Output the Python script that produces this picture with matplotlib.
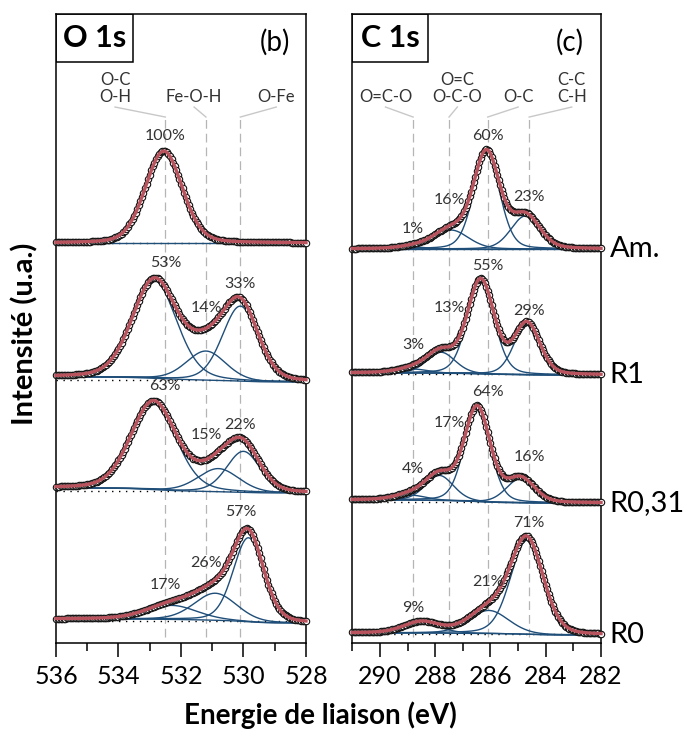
import numpy as np
import matplotlib.pyplot as plt
from matplotlib.patches import Rectangle
from matplotlib.ticker import MultipleLocator

plt.rcParams['font.family'] = ['Lato', 'DejaVu Sans']

# Echantillons (du haut vers le bas)
echantillons = ['Am.', 'R1', 'R0,31', 'R0']

# O 1s : positions (eV), hauteurs, largeurs a mi-hauteur, fond (gauche, droite)
o1s_pos = [[532.55], [532.85, 531.2, 530.1], [532.88, 530.8, 530.0], [532.29, 530.9, 529.84]]
o1s_haut = [[92], [98, 29, 75], [88, 23, 41], [14, 27, 84]]
o1s_fwhm = [[1.4], [1.67, 1.49, 1.35], [1.7, 1.55, 1.27], [1.9, 1.6, 1.15]]
o1s_fond = [(400, 400), (266, 261), (155, 150), (24, 20)]
o1s_pct = [['100%'], ['53%', '14%', '33%'], ['63%', '15%', '22%'], ['17%', '26%', '57%']]
o1s_guides = [532.5, 531.2, 530.1]
o1s_guide_idx = [[0], [0, 1, 2], [0, 1, 2], [0, 1, 2]]
o1s_liaisons = ['O-C\nO-H', 'Fe-O-H', 'O-Fe']

# C 1s
c1s_pos = [[288.8, 287.43, 286.14, 284.74], [288.8, 287.79, 286.35, 284.68],
           [288.9, 287.85, 286.48, 284.92], [288.5, 286.06, 284.68]]
c1s_haut = [[2, 19, 95, 33], [4, 21, 93.5, 51], [5, 25, 94, 24], [11, 23, 94]]
c1s_fwhm = [[1.2, 1.48, 1.11, 1.23], [1.3, 1.2, 1.14, 1.1], [1.3, 1.2, 1.1, 1.2], [1.5, 1.69, 1.4]]
c1s_fond = [(394, 394), (270, 268), (143, 140), (10, 8)]
c1s_pct = [['1%', '16%', '60%', '23%'], ['3%', '13%', '55%', '29%'],
           ['4%', '17%', '64%', '16%'], ['9%', '21%', '71%']]
c1s_guides = [288.8, 287.5, 286.1, 284.6]
c1s_guide_idx = [[0, 1, 2, 3], [0, 1, 2, 3], [0, 1, 2, 3], [0, 2, 3]]
c1s_liaisons = ['O=C-O', 'O=C\nO-C-O', 'O-C', 'C-C\nC-H']

# placement des etiquettes (hauteur en unites de l'axe)
o1s_pct_y = [[507], [380, 335, 359], [257, 208, 218], [58, 80, 131]]
c1s_pct_y = [[414, 443, 507, 446], [298, 335, 377, 332], [174, 220, 251, 186], [35, 61, 120]]
o1s_lbl_x = [534.11, 531.58, 528.95]
c1s_lbl_x = [289.8, 287.2, 285.0, 283.06]

ROUGE = '#b9545e'
BLEU = '#1f4e79'
GRIS = '#b5b5b5'


def pv(x, c, h, w, eta=0.2):
    g = np.exp(-4 * np.log(2) * ((x - c) / w) ** 2)
    l = 1 / (1 + 4 * ((x - c) / w) ** 2)
    return h * ((1 - eta) * g + eta * l)


def shirley(x, total, gauche, droite):
    # x decroissant (gauche -> droite)
    cum = np.cumsum(total[::-1])[::-1]
    return droite + (gauche - droite) * cum / cum[0]


def panneau(ax, xlim, pos, haut, fwhm, fond, pct, pct_y, guides, gidx, liaisons, lbl_x):
    x = np.linspace(xlim[0], xlim[1], 600)
    xm = np.round(np.arange(xlim[0], xlim[1] - 0.001, -0.05), 2)
    for i in range(len(pos)):
        comps = [pv(x, c, h, w) for c, h, w in zip(pos[i], haut[i], fwhm[i])]
        comps_m = [pv(xm, c, h, w) for c, h, w in zip(pos[i], haut[i], fwhm[i])]
        tot = np.sum(comps, axis=0)
        tot_m = np.sum(comps_m, axis=0)
        bg = shirley(x, tot, *fond[i])
        bg_m = np.interp(xm[::-1], x[::-1], bg[::-1])[::-1]
        ax.axhline(np.mean(fond[i]), color='k', ls=(0, (1, 4)), lw=1, zorder=1)
        ax.plot(x, bg, color=BLEU, lw=1, zorder=2)
        for cp in comps:
            ax.plot(x, cp + bg, color=BLEU, lw=1, zorder=2)
        ax.plot(xm, tot_m + bg_m, 'o', ms=4.6, mfc='white', mec='#111111', mew=0.8,
                zorder=3, clip_on=False)
        ax.plot(x, tot + bg, color=ROUGE, lw=2.4, zorder=4, clip_on=False)
        for t, yy, g in zip(pct[i], pct_y[i], gidx[i]):
            ax.text(guides[g], yy, t, ha='center', va='center', fontsize=11.5,
                    color='#333333', zorder=5)
    for g, lab, lx in zip(guides, liaisons, lbl_x):
        ax.plot([g, g], [6, 526], color=GRIS, lw=0.9, dashes=[7, 4], zorder=0.5)
        ax.plot([lx, g], [536, 526], color='#c8c8c8', lw=1, zorder=0.5)
        ax.text(lx, 538, lab, ha='center', va='bottom', fontsize=12,
                color='#333333', linespacing=1.1)
    ax.set_xlim(*xlim)
    ax.set_ylim(0, 629)
    ax.set_yticks([])
    ax.xaxis.set_major_locator(MultipleLocator(2))
    ax.xaxis.set_minor_locator(MultipleLocator(1))
    ax.tick_params(axis='x', which='major', length=10, width=1.1, labelsize=18, pad=6)
    ax.tick_params(axis='x', which='minor', length=5.5, width=1.1)
    for s in ax.spines.values():
        s.set_linewidth(1.1)


fig = plt.figure(figsize=(6.86, 7.51), dpi=100)
ax1 = fig.add_axes([0.0816, 0.1438, 0.3644, 0.8375])
ax2 = fig.add_axes([0.5136, 0.1438, 0.3625, 0.8375])

panneau(ax1, (536, 528), o1s_pos, o1s_haut, o1s_fwhm, o1s_fond, o1s_pct, o1s_pct_y,
        o1s_guides, o1s_guide_idx, o1s_liaisons, o1s_lbl_x)
panneau(ax2, (291, 282), c1s_pos, c1s_haut, c1s_fwhm, c1s_fond, c1s_pct, c1s_pct_y,
        c1s_guides, c1s_guide_idx, c1s_liaisons, c1s_lbl_x)

# titres encadres
for ax, titre, lettre, bw in [(ax1, 'O 1s', '(b)', 0.308), (ax2, 'C 1s', '(c)', 0.303)]:
    ax.add_patch(Rectangle((0, 0.9237), bw, 0.0763, transform=ax.transAxes,
                           fill=False, lw=1.1, ec='k', zorder=6))
    ax.text(bw / 2, 0.962, titre, transform=ax.transAxes, ha='center', va='center',
            fontsize=22, fontweight='bold')
    ax.text(0.876, 0.955, lettre, transform=ax.transAxes, ha='center', va='center',
            fontsize=20)

# noms des echantillons a droite
for nom, (g, d) in zip(echantillons, c1s_fond):
    ax2.text(1.035, d, nom, transform=ax2.get_yaxis_transform(), ha='left',
             va='center', fontsize=21)

fig.text(0.467, 0.047, 'Energie de liaison (eV)', ha='center', va='center',
         fontsize=20, fontweight='bold')
fig.text(0.036, 0.555, 'Intensité (u.a.)', ha='center', va='center', rotation=90,
         fontsize=21, fontweight='bold')

fig.savefig('out.png', dpi=100)
